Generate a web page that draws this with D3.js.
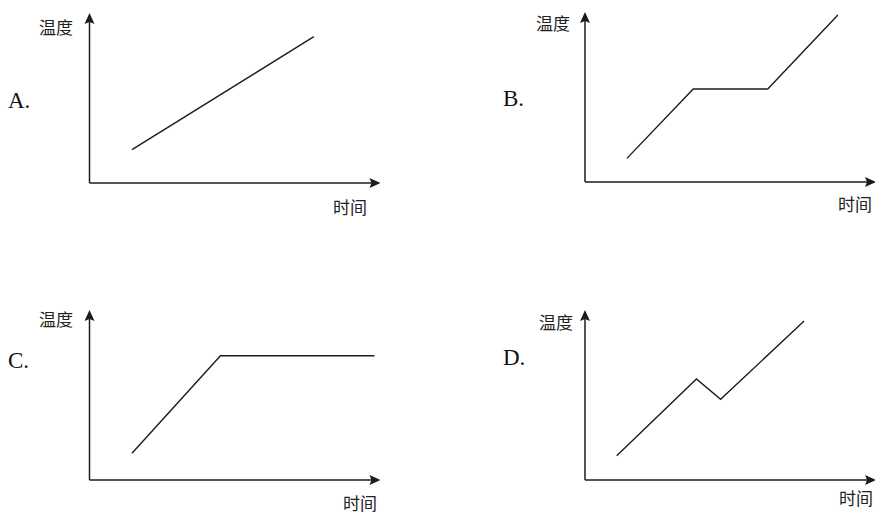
<!DOCTYPE html>
<html>
<head>
<meta charset="utf-8">
<script src="https://cdn.jsdelivr.net/npm/d3@7"></script>
<style>
  html, body { margin: 0; padding: 0; background: #fff; }
  svg { display: block; }
</style>
</head>
<body>
<svg id="chart" width="875" height="513"></svg>
<script>
// ---- data ----
const panelNames = ["A.", "B.", "C.", "D."];
const yAxisLabel = "温度";
const xAxisLabel = "时间";
// time (0-100 along the axis) and temperature (0-100 along the axis) for each option
const seriesA = [[14.6, 19.6], [77.1, 86.1]];
const seriesB = [[14.4, 13.9], [37.2, 54.7], [62.8, 54.7], [86.9, 98.2]];
const seriesC = [[14.6, 15.7], [45.0, 73.1], [97.9, 73.1]];
const seriesD = [[10.9, 14.3], [38.3, 59.4], [46.6, 47.5], [75.3, 93.5]];
const allSeries = [seriesA, seriesB, seriesC, seriesD];

// ---- layout ----
const panels = [
  { ox: 89.5, oy: 183, letterX: 8,   letterY: 100, yLabX: 73,  yLabY: 26,  xLabX: 367, xLabY: 206 },
  { ox: 585,  oy: 182, letterX: 503, letterY: 98,  yLabX: 570, yLabY: 22,  xLabX: 872, xLabY: 203 },
  { ox: 89.5, oy: 480, letterX: 8,   letterY: 360, yLabX: 73,  yLabY: 318, xLabX: 377, xLabY: 502 },
  { ox: 585,  oy: 480, letterX: 503, letterY: 357, yLabX: 573, yLabY: 321, xLabX: 873, xLabY: 497 }
];
const W = 291, H = 170;
const ink = "#1c1c1c";

const svg = d3.select("#chart");

panels.forEach((p, i) => {
  const x = d3.scaleLinear().domain([0, 100]).range([p.ox, p.ox + W]);
  const y = d3.scaleLinear().domain([0, 100]).range([p.oy, p.oy - H]);
  const g = svg.append("g");

  // axes
  g.append("line").attr("x1", x(0)).attr("y1", y(0)).attr("x2", x(0)).attr("y2", y(100) + 8)
    .attr("stroke", ink).attr("stroke-width", 1.5);
  g.append("line").attr("x1", x(0)).attr("y1", y(0)).attr("x2", x(100) - 8).attr("y2", y(0))
    .attr("stroke", ink).attr("stroke-width", 1.5);

  // arrowheads
  const ty = y(100), tx = x(0);
  g.append("path")
    .attr("d", `M${tx},${ty} L${tx - 5},${ty + 11} L${tx},${ty + 9} L${tx + 5},${ty + 11} Z`)
    .attr("fill", ink);
  const rx = x(100), ry = y(0);
  g.append("path")
    .attr("d", `M${rx},${ry} L${rx - 11},${ry - 5} L${rx - 9},${ry} L${rx - 11},${ry + 5} Z`)
    .attr("fill", ink);

  // series line
  const line = d3.line().x(d => x(d[0])).y(d => y(d[1]));
  g.append("path").datum(allSeries[i]).attr("d", line)
    .attr("fill", "none").attr("stroke", ink).attr("stroke-width", 1.4)
    .attr("stroke-linejoin", "miter");

  // texts
  g.append("text").attr("x", p.letterX).attr("y", p.letterY)
    .attr("dominant-baseline", "central")
    .attr("font-family", "'Liberation Serif', 'Times New Roman', serif")
    .attr("font-size", 23).attr("fill", "#111").text(panelNames[i]);

  g.append("text").attr("x", p.yLabX).attr("y", p.yLabY)
    .attr("text-anchor", "end").attr("dominant-baseline", "central")
    .attr("font-family", "'Noto Sans CJK SC', sans-serif")
    .attr("font-size", 17).attr("fill", "#222").text(yAxisLabel);

  g.append("text").attr("x", p.xLabX).attr("y", p.xLabY)
    .attr("text-anchor", "end").attr("dominant-baseline", "central")
    .attr("font-family", "'Noto Sans CJK SC', sans-serif")
    .attr("font-size", 17).attr("fill", "#222").text(xAxisLabel);
});
</script>
</body>
</html>
